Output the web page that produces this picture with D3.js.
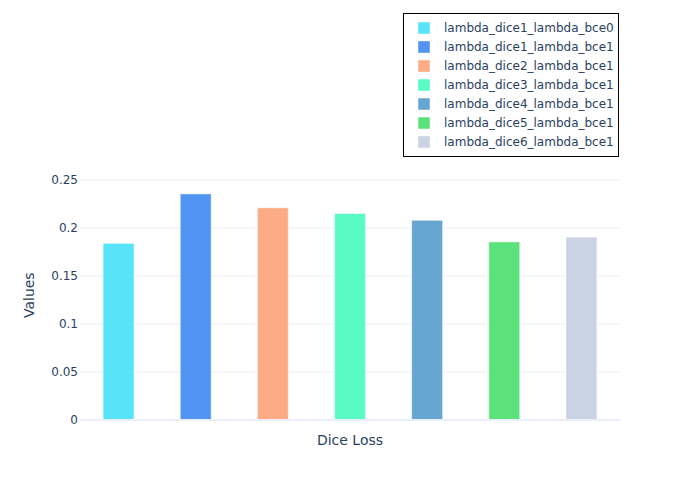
<!DOCTYPE html>
<html>
<head>
<meta charset="utf-8">
<script src="https://cdn.jsdelivr.net/npm/d3@7"></script>
<style>
  html, body { margin: 0; padding: 0; background: #fff; }
  svg { display: block; }
</style>
</head>
<body>
<svg id="chart" width="700" height="500"></svg>
<script>
const seriesNames = [
  "lambda_dice1_lambda_bce0",
  "lambda_dice1_lambda_bce1",
  "lambda_dice2_lambda_bce1",
  "lambda_dice3_lambda_bce1",
  "lambda_dice4_lambda_bce1",
  "lambda_dice5_lambda_bce1",
  "lambda_dice6_lambda_bce1"
];
const seriesValues = [0.184, 0.2355, 0.221, 0.215, 0.208, 0.1855, 0.1905];
const seriesColors = ["#58e4f8", "#5294f2", "#fdab84", "#58fbc4", "#66a6d1", "#5ce27b", "#c9d3e3"];
const yTicks = [0, 0.05, 0.1, 0.15, 0.2, 0.25];
const yTickLabels = ["0", "0.05", "0.1", "0.15", "0.2", "0.25"];
const xTitle = "Dice Loss";
const yTitle = "Values";

const font = "'DejaVu Sans', Verdana, sans-serif";
const textColor = "#2a3f5f";
const gridColor = "#ebf0f8";

const svg = d3.select("#chart");
const plotLeft = 80, plotRight = 620, plotTop = 170.4, plotBottom = 420;

const x = d3.scaleBand().domain(seriesNames).range([plotLeft, plotRight]).paddingInner(0.6).paddingOuter(0.3);
const y = d3.scaleLinear().domain([0, 0.26]).range([plotBottom, plotTop]);

// gridlines
svg.append("g").selectAll("line").data(yTicks.filter(d => d !== 0)).join("line")
  .attr("x1", plotLeft).attr("x2", plotRight)
  .attr("y1", d => y(d)).attr("y2", d => y(d))
  .attr("stroke", gridColor).attr("stroke-width", 1);

// y tick labels via axis
const yAxis = d3.axisLeft(y).tickValues(yTicks).tickFormat((d, i) => yTickLabels[i]).tickSize(0).tickPadding(2);
const ga = svg.append("g").attr("transform", `translate(${plotLeft},0)`).call(yAxis);
ga.select(".domain").remove();
ga.selectAll("text").attr("font-family", font).attr("font-size", 12).attr("fill", textColor);

// bars
svg.append("g").selectAll("rect").data(seriesNames).join("rect")
  .attr("x", d => x(d))
  .attr("width", x.bandwidth())
  .attr("y", (d, i) => y(seriesValues[i]))
  .attr("height", (d, i) => y(0) - y(seriesValues[i]))
  .attr("fill", (d, i) => seriesColors[i])
  .attr("stroke", "rgba(255,255,255,0.45)")
  .attr("stroke-width", 1);

// zero line
svg.append("line").attr("x1", plotLeft).attr("x2", plotRight)
  .attr("y1", y(0)).attr("y2", y(0))
  .attr("stroke", gridColor).attr("stroke-width", 2);

// axis titles
svg.append("text").attr("x", (plotLeft + plotRight) / 2).attr("y", 445)
  .attr("text-anchor", "middle").attr("font-family", font).attr("font-size", 14)
  .attr("fill", textColor).text(xTitle);
svg.append("text").attr("transform", `translate(34,${(plotTop + plotBottom) / 2}) rotate(-90)`)
  .attr("text-anchor", "middle").attr("font-family", font).attr("font-size", 14)
  .attr("fill", textColor).text(yTitle);

// legend
const lg = svg.append("g");
lg.append("rect").attr("x", 403.5).attr("y", 13.5).attr("width", 215).attr("height", 143)
  .attr("fill", "#fff").attr("stroke", "#000").attr("stroke-width", 1);
const items = lg.selectAll("g.item").data(seriesNames).join("g").attr("class", "item")
  .attr("transform", (d, i) => `translate(0,${28 + i * 19})`);
items.append("rect").attr("x", 418).attr("y", -6).attr("width", 12).attr("height", 12)
  .attr("fill", (d, i) => seriesColors[i]).attr("stroke", "rgba(255,255,255,0.45)").attr("stroke-width", 1);
items.append("text").attr("x", 444).attr("y", 4.2)
  .attr("font-family", font).attr("font-size", 12).attr("fill", textColor).text(d => d);
</script>
</body>
</html>
